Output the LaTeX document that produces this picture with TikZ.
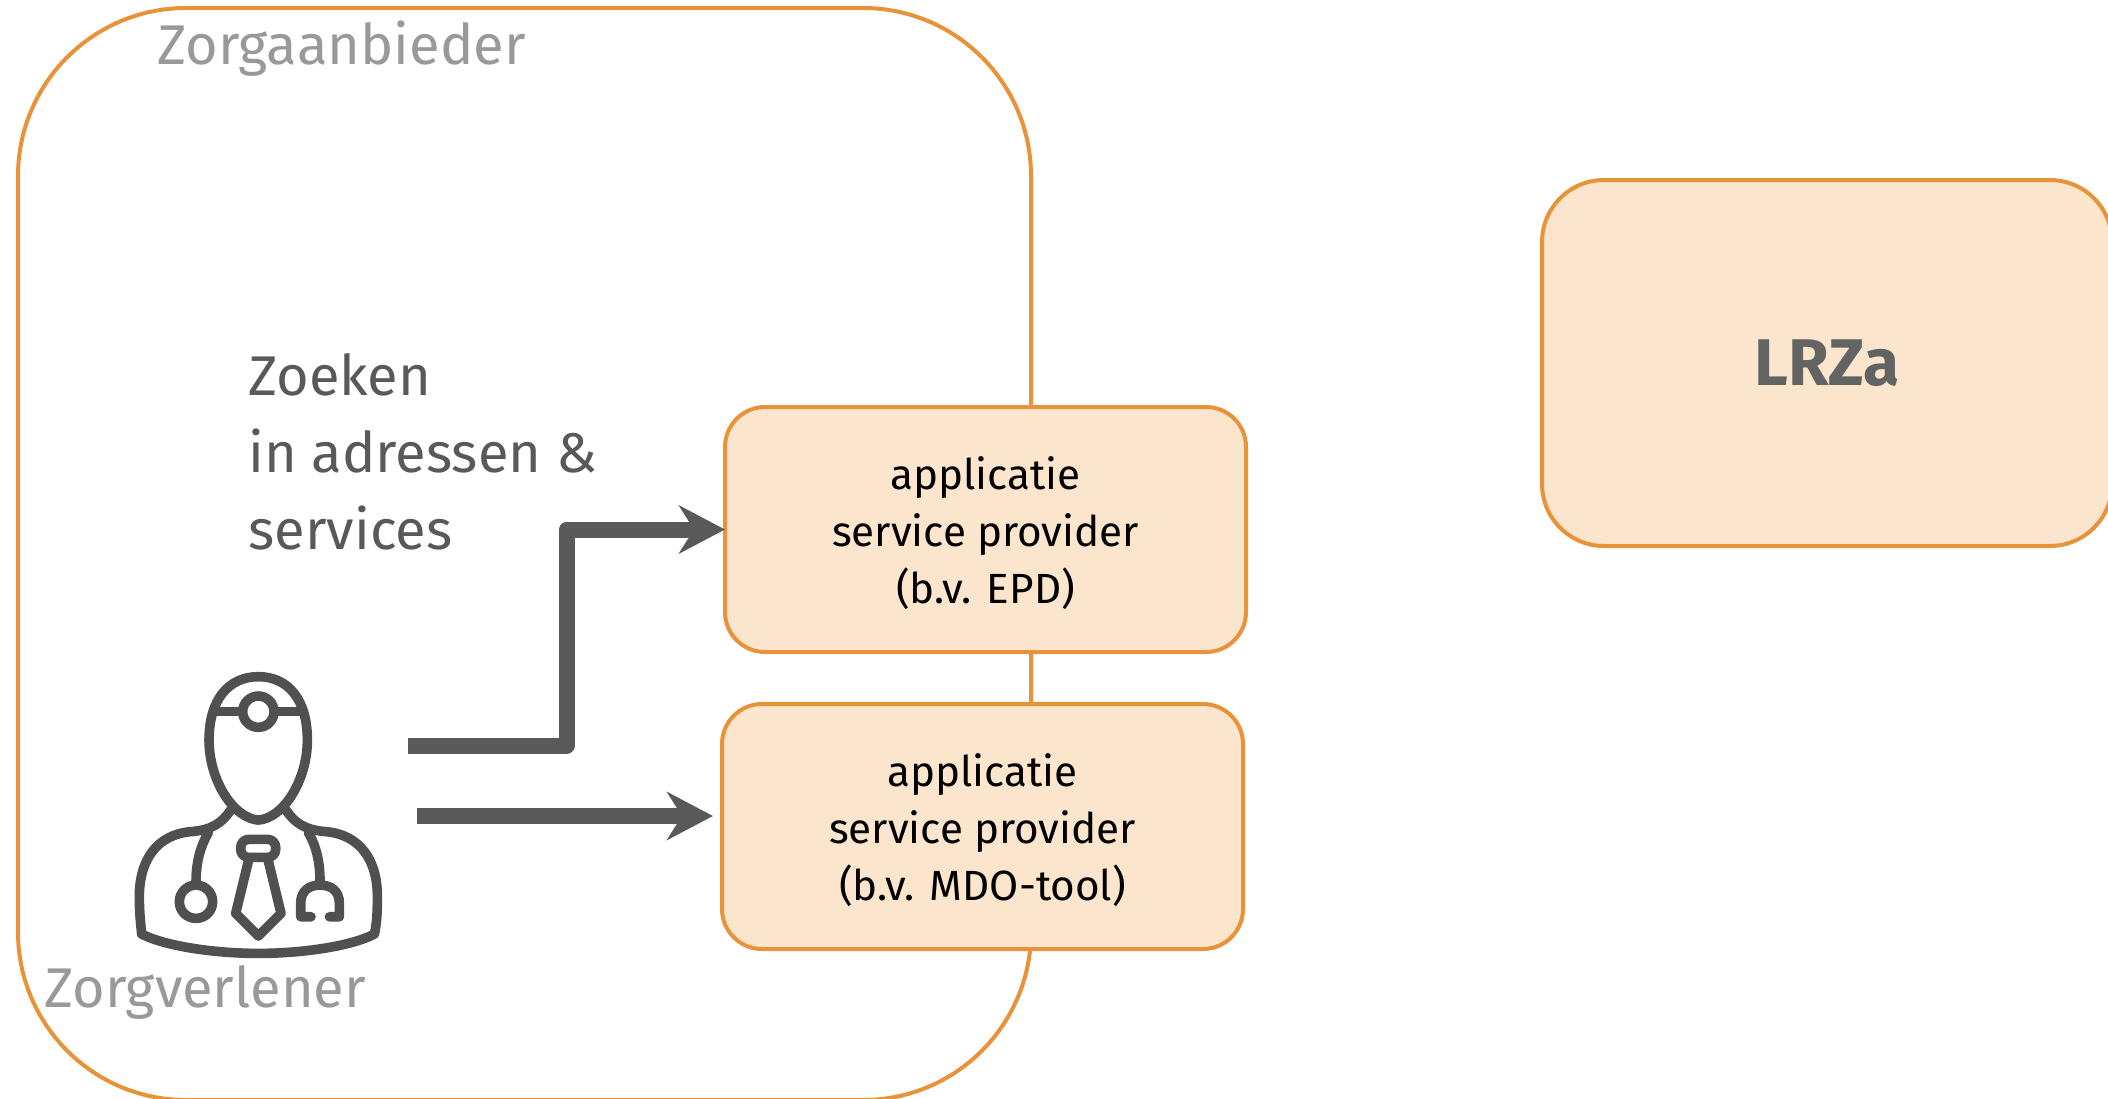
\documentclass[tikz,border=0pt]{standalone}
\usepackage{fontspec}
\setmainfont{Fira Sans}
\usetikzlibrary{arrows.meta}
\definecolor{boxline}{HTML}{E8923A}
\definecolor{boxfill}{HTML}{FBE5CD}
\definecolor{arrowgrey}{HTML}{595959}
\definecolor{icongrey}{HTML}{505050}
\definecolor{labelgrey}{HTML}{999999}
\definecolor{maingrey}{HTML}{595959}
\definecolor{lrzgrey}{HTML}{636363}
\tikzset{
  outerbox/.style={draw=boxline,line width=2pt,rounded corners=84pt,minimum width=506.5pt,minimum height=546pt,inner sep=0pt,outer sep=0pt},
  appbox/.style={draw=boxline,fill=boxfill,line width=2pt,rounded corners=20pt,minimum width=260.5pt,minimum height=122.5pt,inner sep=0pt,outer sep=0pt},
  apptext/.style={anchor=center,align=center,inner sep=0pt,text=black,font=\fontsize{21.1pt}{28.7pt}\selectfont},
  lrzbox/.style={draw=boxline,fill=boxfill,line width=2pt,rounded corners=31pt,minimum width=285pt,minimum height=183pt,inner sep=0pt,outer sep=0pt,text=lrzgrey,font=\fontsize{33pt}{38pt}\selectfont\bfseries},
  greylabel/.style={anchor=base west,inner sep=0pt,text=labelgrey,font=\fontsize{28pt}{32pt}\selectfont},
  mainlabel/.style={anchor=west,align=left,inner sep=0pt,text=maingrey,font=\fontsize{28pt}{38.5pt}\selectfont},
  flow/.style={draw=arrowgrey,line width=8pt,line join=round,-{Stealth[length=23pt,width=24pt,inset=7.5pt]}},
  iconline/.style={draw=icongrey,line width=4.8pt,line cap=round,line join=round}
}
\begin{document}
\begin{tikzpicture}[x=0.5pt,y=-0.5pt]
\useasboundingbox (0,0) rectangle (2108,1098);
\node[outerbox] (zorg) at (524.5,554) {};
\node[greylabel] (zorgl) at (157,64) {Zorgaanbieder};
\node[appbox] (app1) at (985.5,529.5) {};
\node[appbox] (app2) at (982.5,826.5) {};
\node[apptext] (app1t) at (985.5,533) {applicatie\\service provider\\(b.v. EPD)};
\node[apptext] (app2t) at (982.5,830) {applicatie\\service provider\\(b.v. MDO-tool)};
\node[lrzbox] (lrz) at (1827,363) {LRZa};
\node[mainlabel] (zoek) at (248,452) {Zoeken\\in adressen \&\\services};
\coordinate (s1) at (408,745.5);
\coordinate (s2) at (417,816);
\draw[flow] (s1) -- (566.5,745.5) -- (566.5,529.5) -- (app1.west);
\draw[flow,shorten >=4.5pt] (s2) -- (s2 -| app2.west);
\begin{scope}[shift={(100,640)},x=0.1667pt,y=-0.1667pt]
  \draw[iconline] (475,110) .. controls (385,110) and (327,180) .. (327,300) .. controls (327,420) and (400,535) .. (475,540) .. controls (550,535) and (622,420) .. (622,300) .. controls (622,180) and (565,110) .. (475,110) -- cycle;
  \draw[iconline] (345,215) -- (425,215) (525,215) -- (605,215);
  \draw[iconline] (475,215) circle [radius=47];
  \draw[iconline] (392,510) .. controls (365,550) and (335,570) .. (270,575) .. controls (170,585) and (118,660) .. (118,770) .. controls (118,820) and (122,850) .. (125,882) .. controls (200,920) and (350,940) .. (475,940) .. controls (600,940) and (750,920) .. (823,882) .. controls (830,850) and (832,820) .. (832,770) .. controls (832,660) and (780,585) .. (680,575) .. controls (615,570) and (585,550) .. (558,510);
  \draw[iconline] (325,578) .. controls (300,620) and (288,670) .. (288,725);
  \draw[iconline] (288,785) circle [radius=50];
  \draw[iconline] (625,578) .. controls (650,620) and (660,670) .. (660,725);
  \draw[iconline] (633,830) -- (602,830) -- (602,790) .. controls (602,750) and (630,735) .. (660,735) .. controls (690,735) and (718,750) .. (718,790) -- (718,830) -- (688,830);
  \draw[iconline,rounded corners=4pt] (422,598) rectangle (527,652);
  \draw[iconline] (447,655) -- (407,820) -- (475,888) -- (543,820) -- (503,655);
\end{scope}
\node[greylabel] (verl) at (44,1007) {Zorgverlener};
\end{tikzpicture}
\end{document}
